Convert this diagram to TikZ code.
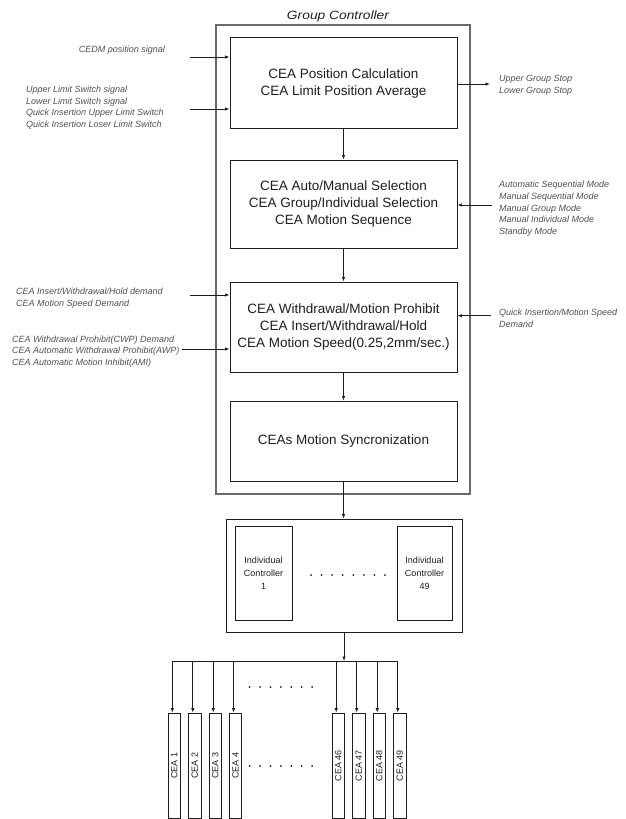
\documentclass[tikz,border=0pt]{standalone}
\usepackage{fontspec}
\setmainfont{Liberation Sans}
\usepackage{graphicx}
\usetikzlibrary{arrows.meta,calc}
\definecolor{lbl}{HTML}{505050}
\definecolor{ink}{HTML}{1E1E1E}
\definecolor{frame}{HTML}{6A6A6A}
\begin{document}
\begin{tikzpicture}[x=1pt,y=-1pt,
  blk/.style={draw=ink,line width=0.9pt,minimum width=227pt,align=center,
    font=\fontsize{13.5}{16.6}\selectfont,text=ink,inner sep=0pt},
  lab/.style={font=\fontsize{9}{11.7}\selectfont\itshape,text=lbl,align=left,inner sep=0pt},
  arr/.style={draw=ink,line width=0.8pt,-{Latex[length=4.5pt,width=3.5pt]}},
  ln/.style={draw=ink,line width=0.8pt},
  icbox/.style={draw=ink,line width=0.9pt,minimum height=94pt,align=center,
    font=\fontsize{9}{13}\selectfont,text=ink,inner sep=0pt},
  ceabox/.style={draw=ink,line width=0.9pt,minimum width=12.5pt,minimum height=105pt,inner sep=0pt},
  cealab/.style={rotate=90,font=\fontsize{9}{11}\selectfont,text=ink,inner sep=0pt},
  dot/.style={fill=ink}
]
\useasboundingbox (0,0) rectangle (626,819);

% title and outer frame
\node[font=\fontsize{12}{14}\selectfont\itshape,text=ink,anchor=base,inner sep=0pt] (title) at (338,19.3) {\scalebox{1.15}[1]{Group Controller}};
\node[draw=frame,line width=1.4pt,minimum width=254pt,minimum height=469pt,inner sep=0pt] (gc) at (343,259.5) {};

% main blocks
\node[blk,minimum height=91pt] (b1) at (343.5,83.4) {CEA Position Calculation\\CEA Limit Position Average};
\node[blk,minimum height=88pt] (b2) at (343.5,204) {CEA Auto/Manual Selection\\CEA Group/Individual Selection\\CEA Motion Sequence};
\node[blk,minimum height=90pt] (b3) at (343.5,327) {CEA Withdrawal/Motion Prohibit\\CEA Insert/Withdrawal/Hold\\CEA Motion Speed(0.25,2mm/sec.)};
\node[blk,minimum height=80pt] (b4) at (343.5,441) {CEAs Motion Syncronization};

\draw[arr] (b1.south) -- (b2.north);
\draw[arr] (b2.south) -- (b3.north);
\draw[arr] (b3.south) -- (b4.north);

% left inputs
\node[lab,anchor=east] (t1) at (165,50) {CEDM position signal};
\node[lab,anchor=west] (t2) at (26,107.5) {Upper Limit Switch signal\\Lower Limit Switch signal\\Quick Insertion Upper Limit Switch\\Quick Insertion Loser Limit Switch};
\coordinate (s1) at (190,57);
\coordinate (s2) at (190,109);
\draw[arr] (s1) -- (s1 -| b1.west);
\draw[arr] (s2) -- (s2 -| b1.west);

\node[lab,anchor=west] (t5) at (16,298) {CEA Insert/Withdrawal/Hold demand\\CEA Motion Speed Demand};
\node[lab,anchor=west] (t6) at (12,351.5) {CEA Withdrawal Prohibit(CWP) Demand\\CEA Automatic Withdrawal Prohibit(AWP)\\CEA Automatic Motion Inhibit(AMI)};
\coordinate (s4) at (190,295);
\coordinate (s5y) at (0,349);
\coordinate (s5) at ([xshift=2pt]t6.east |- s5y);
\draw[arr] (s4) -- (s4 -| b3.west);
\draw[arr] (s5) -- (s5 -| b3.west);

% right side
\coordinate (o1) at (490,84);
\draw[arr] (o1 -| b1.east) -- (o1);
\node[lab,anchor=west] (t3) at (499,85.5) {Upper Group Stop\\Lower Group Stop};

\coordinate (s3) at (491.5,205);
\draw[arr] (s3) -- (s3 -| b2.east);
\node[lab,anchor=west] (t4) at (499,208.7) {Automatic Sequential Mode\\Manual Sequential Mode\\Manual Group Mode\\Manual Individual Mode\\Standby Mode};

\coordinate (s6) at (491,315.7);
\draw[arr] (s6) -- (s6 -| b3.east);
\node[lab,anchor=west] (t7) at (499,318) {Quick Insertion/Motion Speed\\Demand};

% individual controllers
\node[draw=ink,line width=0.9pt,minimum width=236pt,minimum height=113pt,inner sep=0pt] (ic) at (344,575.5) {};
\node[icbox,minimum width=57pt] (ic1) at (263.5,573) {Individual\\Controller\\1};
\node[icbox,minimum width=55pt] (ic49) at (424.5,573) {Individual\\Controller\\49};
\foreach \i in {0,...,7} \fill[dot] ({311+\i*10.57},575) circle (1pt);

\draw[arr] (b4.south) -- (b4.south |- ic.north);

% CEAs
\foreach \n/\x/\t in {c1/174.3/CEA 1,c2/194.8/CEA 2,c3/215.2/CEA 3,c4/235.5/CEA 4,c46/338.2/CEA 46,c47/358.7/CEA 47,c48/379.2/CEA 48,c49/399.8/CEA 49}{
  \node[ceabox] (\n) at (\x,765.5) {};
  \node[cealab] (\n t) at (\n) {\t};
}
\coordinate (bus) at (344,661);
\draw[arr] (ic.south) -- (bus);
\draw[ln] ([xshift=-2pt]c1.north |- bus) -- ([xshift=-2pt]c49.north |- bus);
\foreach \n in {c1,c2,c3,c4,c46,c47,c48,c49}
  \draw[arr] ([xshift=-2pt]\n.north |- bus) -- ([xshift=-2pt]\n.north);
\foreach \i in {0,...,6} {
  \fill[dot] ({249.7+\i*10.4},687) circle (1pt);
  \fill[dot] ({249.7+\i*10.4},766) circle (1pt);
}
\end{tikzpicture}
\end{document}
